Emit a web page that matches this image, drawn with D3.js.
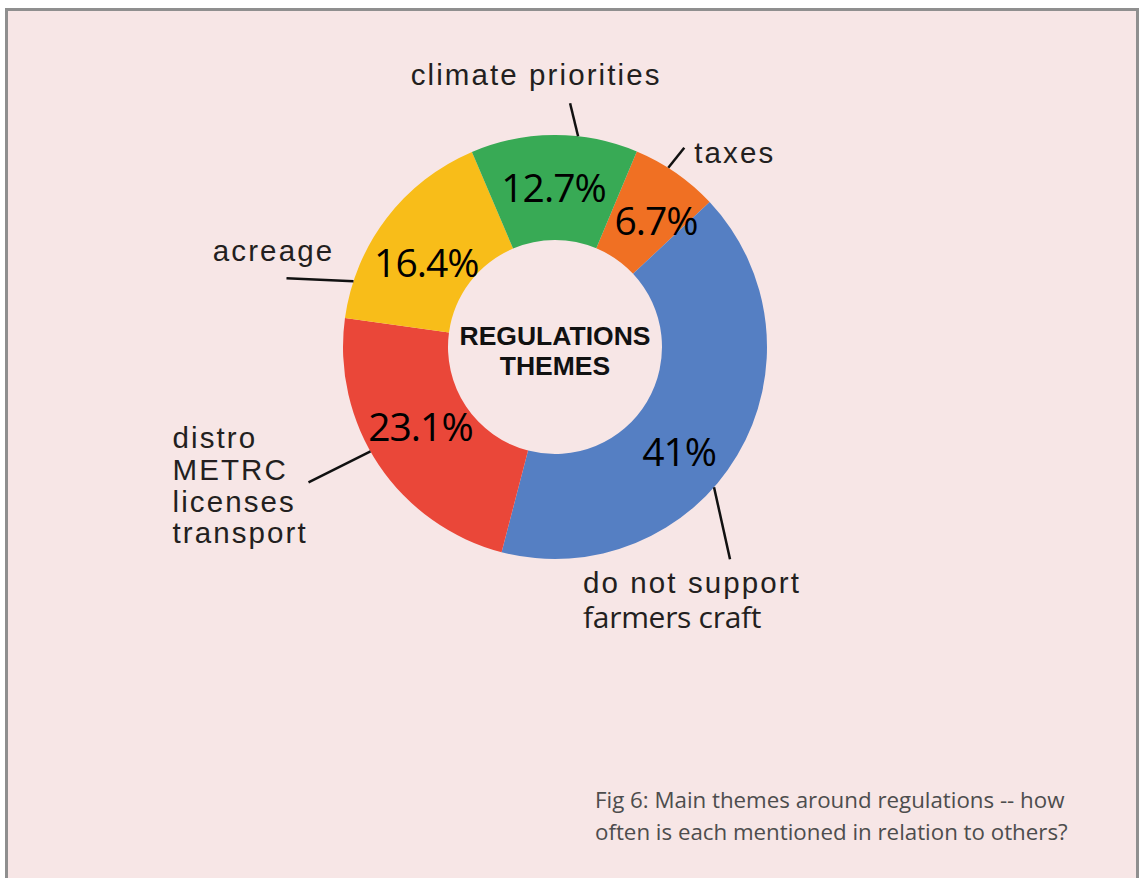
<!DOCTYPE html>
<html>
<head>
<meta charset="utf-8">
<script src="https://cdn.jsdelivr.net/npm/d3@7"></script>
<style>
  html, body { margin: 0; padding: 0; background: #ffffff; }
  svg { display: block; }
</style>
</head>
<body>
<svg id="chart" width="1139" height="878"></svg>
<script>
// Regulation themes and how often each one is mentioned (percent of mentions)
const categories = ["taxes", "do not support farmers craft", "distro METRC licenses transport", "acreage", "climate priorities"];
const shares = [6.7, 41, 23.1, 16.4, 12.7];
const labelLines = [
  ["taxes"],
  ["do not support", "farmers craft"],
  ["distro", "METRC", "licenses", "transport"],
  ["acreage"],
  ["climate priorities"]
];
const centerTitle = ["REGULATIONS", "THEMES"];
const caption = ["Fig 6: Main themes around regulations -- how", "often is each mentioned in relation to others?"];

// Presentation
const colors = ["#f07023", "#557fc3", "#ea4739", "#f8bd19", "#38aa55"];
// per-slice callout: ring angle (deg), leader vector, text offset from leader end, anchor,
// line height, and which lines are set in the plain (unspaced) face
const callouts = [
  { angle: 32.3, leader: [16, -20], text: [10, 15], anchor: "start", lh: 31, plain: [] },
  { angle: 131.4, leader: [16, 72], text: [-147, 34], anchor: "start", lh: 34.5, plain: [1] },
  { angle: 240.5, leader: [-62, 31], text: [-136, -34], anchor: "start", lh: 31.7, plain: [] },
  { angle: 288.1, leader: [-67, -3], text: [-13, -17], anchor: "middle", lh: 31, plain: [] },
  { angle: 6.25, leader: [-8, -33], text: [-34, -18], anchor: "middle", lh: 31, plain: [] }
];
// fine nudges of the percentage labels away from the arc centroid
const pctNudge = [[10, 5], [-13, 24], [-2, -9], [-2, 13], [-1, 0]];

const svg = d3.select("#chart");
const cx = 555, cy = 347, outerR = 212, innerR = 107;

// panel
svg.append("rect")
  .attr("x", 6.5).attr("y", 9.5)
  .attr("width", 1131).attr("height", 900)
  .attr("fill", "#f7e6e6")
  .attr("stroke", "#8f8f8f")
  .attr("stroke-width", 3);

const rad = d => d * Math.PI / 180;
const start = rad(22.7);

const pie = d3.pie().sort(null).value(d => d).startAngle(start).endAngle(start + 2 * Math.PI);
const arcs = pie(shares);
const arc = d3.arc().innerRadius(innerR).outerRadius(outerR);
const midArc = d3.arc().innerRadius((innerR + outerR) / 2).outerRadius((innerR + outerR) / 2);

const g = svg.append("g").attr("transform", `translate(${cx},${cy})`);

g.selectAll("path.slice")
  .data(arcs)
  .join("path")
  .attr("class", "slice")
  .attr("d", arc)
  .attr("fill", (d, i) => colors[i]);

// percentage labels
g.selectAll("text.pct")
  .data(arcs)
  .join("text")
  .attr("class", "pct")
  .attr("x", (d, i) => midArc.centroid(d)[0] + pctNudge[i][0])
  .attr("y", (d, i) => midArc.centroid(d)[1] + pctNudge[i][1] + 14)
  .attr("text-anchor", "middle")
  .attr("font-family", "'Open Sans', 'Noto Sans', sans-serif")
  .attr("font-size", 39)
  .attr("letter-spacing", -1)
  .attr("fill", "#000")
  .text(d => d.value + "%");

// center title
g.append("text")
  .attr("text-anchor", "middle")
  .attr("font-family", "'Liberation Sans', Arial, sans-serif")
  .attr("font-weight", "bold")
  .attr("font-size", 26.5)
  .attr("fill", "#111")
  .selectAll("tspan")
  .data(centerTitle)
  .join("tspan")
  .attr("x", 0)
  .attr("y", (d, i) => -2 + i * 30)
  .text(d => d);

// callouts with leader lines
arcs.forEach((d, i) => {
  const c = callouts[i];
  const a = rad(c.angle);
  const x0 = outerR * Math.sin(a), y0 = -outerR * Math.cos(a);
  const x1 = x0 + c.leader[0], y1 = y0 + c.leader[1];
  g.append("line")
    .attr("x1", x0).attr("y1", y0)
    .attr("x2", x1).attr("y2", y1)
    .attr("stroke", "#111")
    .attr("stroke-width", 2.5);
  g.append("text")
    .attr("text-anchor", c.anchor)
    .attr("fill", "#231f20")
    .selectAll("tspan")
    .data(labelLines[i])
    .join("tspan")
    .attr("x", x1 + c.text[0])
    .attr("y", (t, j) => y1 + c.text[1] + j * c.lh)
    .attr("font-family", (t, j) => c.plain.includes(j) ? "'Open Sans', 'Noto Sans', sans-serif" : "'Liberation Sans', Arial, sans-serif")
    .attr("font-size", (t, j) => c.plain.includes(j) ? 30 : 29.5)
    .attr("letter-spacing", (t, j) => c.plain.includes(j) ? -0.3 : 2.1)
    .text(t => t);
});

// caption
svg.append("text")
  .attr("font-family", "'Open Sans', 'Noto Sans', sans-serif")
  .attr("font-size", 22.3)
  .attr("fill", "#4d4d4d")
  .selectAll("tspan")
  .data(caption)
  .join("tspan")
  .attr("x", 595)
  .attr("y", (d, i) => 808 + i * 32)
  .text(d => d);
</script>
</body>
</html>
